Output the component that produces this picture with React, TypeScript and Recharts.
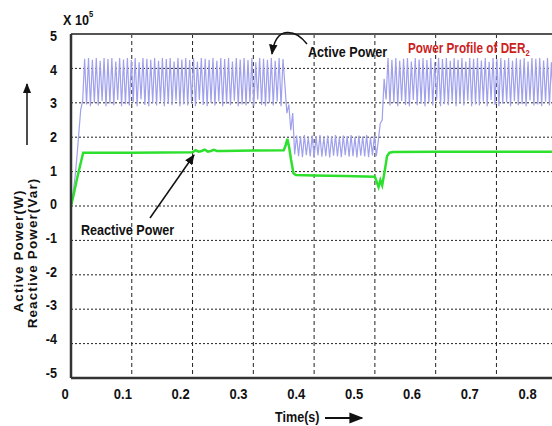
import React from 'react';
import {
  LineChart, Line, XAxis, YAxis, CartesianGrid, ReferenceLine,
} from 'recharts';

// sampling step of the active power trace (s)
const TIME_STEP = 0.0032;

// active power (x 10^5 W), one value per TIME_STEP
const activeRise = [0, 0.35, 0.8, 1.4, 2.1, 2.8, 3.05];
const activeHigh1 = [
  4.28, 2.95, 4.3, 2.9, 4.25, 3.0, 4.3, 2.92, 4.22, 3.05, 4.3, 2.9, 4.27, 2.98, 4.3, 2.93, 4.2, 3.08, 4.3, 2.9,
  4.26, 2.96, 4.3, 2.92, 4.24, 3.02, 4.3, 2.9, 4.18, 3.1, 4.3, 2.94, 4.28, 2.9, 4.25, 3.0, 4.3, 2.92, 4.22, 3.04,
  4.3, 2.9, 4.27, 2.97, 4.3, 2.93, 4.2, 3.06, 4.3, 2.9, 4.26, 2.95, 4.3, 2.92, 4.24, 3.02, 4.3, 2.9, 4.19, 3.08,
  4.3, 2.94, 4.28, 2.9, 4.25, 3.0, 4.3, 2.92, 4.22, 3.04, 4.3, 2.9, 4.27, 2.97, 4.3, 2.93, 4.2, 3.06, 4.3, 2.9,
  4.26, 2.95, 4.3, 2.92, 4.24, 3.02, 4.3, 2.9, 4.18, 3.1, 4.3, 2.94, 4.28, 2.9, 4.25, 3.0, 4.3, 2.92, 4.22, 3.04,
  4.3, 2.9, 4.27,
];
const activeDrop = [3.5, 2.7, 2.95, 2.2, 2.7];
const activeLow = [
  1.5, 2.05, 1.45, 2.02, 1.42, 2.06, 1.48, 2.0, 1.44, 2.05, 1.4, 2.03, 1.47, 2.06, 1.43, 2.0, 1.45, 2.05, 1.41, 2.02,
  1.46, 2.06, 1.44, 2.0, 1.42, 2.05, 1.48, 2.03, 1.43, 2.06, 1.45, 2.0, 1.41, 2.05, 1.46, 2.02, 1.44, 2.06, 1.42, 2.0,
  1.47, 2.05, 1.45,
];
const activeRecover = [1.9, 2.4, 2.5, 3.7, 3.1];
const activeHigh2 = [
  4.3, 2.92, 4.25, 3.0, 4.3, 2.9, 4.22, 3.05, 4.28, 2.94, 4.3, 2.9, 4.2, 3.08, 4.3, 2.93, 4.26, 2.97, 4.3, 2.9,
  4.24, 3.02, 4.3, 2.92, 4.18, 3.1, 4.3, 2.9, 4.27, 2.96, 4.3, 2.93, 4.22, 3.04, 4.3, 2.9, 4.25, 3.0, 4.3, 2.92,
  4.2, 3.06, 4.3, 2.9, 4.28, 2.95, 4.3, 2.92, 4.23, 3.03, 4.3, 2.9, 4.19, 3.08, 4.3, 2.94, 4.27, 2.9, 4.3, 2.97,
  4.24, 3.02, 4.3, 2.9, 4.22, 3.05, 4.3, 2.93, 4.26, 2.96, 4.3, 2.9, 4.2, 3.07, 4.3, 2.92, 4.28, 2.95, 4.3, 2.9,
  4.23, 3.03, 4.3, 2.92, 4.18, 3.1, 4.3, 2.9, 4.27, 2.97, 4.3, 2.93, 4.22, 3.04, 4.3, 2.9, 4.25, 3.0, 4.3, 2.92,
  4.2, 3.06, 4.3, 2.9, 4.28, 2.95, 4.3, 2.92, 4.23, 3.03, 4.3, 2.9, 4.19, 3.08, 4.3, 2.94, 4.27, 2.9, 4.3,
];

// reactive power (x 10^5 Var)
const reactiveTime = [
  0, 0.004, 0.01, 0.016, 0.02, 0.1, 0.2, 0.205, 0.21, 0.215, 0.22, 0.225, 0.23, 0.235, 0.24, 0.25, 0.3,
  0.35, 0.353, 0.356, 0.359, 0.362, 0.366, 0.37, 0.4, 0.45, 0.5, 0.503, 0.506, 0.509, 0.512, 0.516, 0.52,
  0.524, 0.53, 0.6, 0.7, 0.8, 0.9,
];
const reactiveValue = [
  0, 0.3, 0.8, 1.25, 1.55, 1.55, 1.56, 1.62, 1.58, 1.6, 1.64, 1.58, 1.6, 1.63, 1.6, 1.6, 1.61,
  1.62, 1.75, 1.95, 1.7, 1.35, 0.95, 0.9, 0.89, 0.87, 0.85, 0.7, 0.55, 0.75, 0.6, 1.0, 1.45,
  1.55, 1.57, 1.58, 1.58, 1.58, 1.58,
];

const xTicks = [0, 0.1, 0.2, 0.3, 0.4, 0.5, 0.6, 0.7, 0.8, 0.9];
const xLabelTicks = [0, 0.1, 0.2, 0.3, 0.4, 0.5, 0.6, 0.7, 0.8];
const yTicks = [-5, -4, -3, -2, -1, 0, 1, 2, 3, 4, 5];

const activeSeries = [
  ...activeRise, ...activeHigh1, ...activeDrop, ...activeLow, ...activeRecover, ...activeHigh2,
];
const activeData = activeSeries.map((v, i) => ({ t: +(i * TIME_STEP).toFixed(4), v }));
const reactiveData = reactiveTime.map((t, i) => ({ t, v: reactiveValue[i] }));

const FONT = "'Liberation Sans', Arial, sans-serif";
const NARROW = 'scale(0.84,1)';

const NoTick = () => <g />;

const XTick = ({ x, y, payload }: any) => (
  <g transform={`translate(${x - 6},${y})`}>
    <text transform={NARROW} textAnchor="middle" dy="0.71em" fontFamily={FONT} fontSize={15.5} fontWeight={700} fill="#111">
      {payload.value}
    </text>
  </g>
);

const YTick = ({ x, y, payload }: any) => (
  <g transform={`translate(${x},${y})`}>
    <text transform={NARROW} textAnchor="end" dy="0.355em" fontFamily={FONT} fontSize={15} fontWeight={700} fill="#111">
      {payload.value}
    </text>
  </g>
);

export default function App() {
  return (
    <div style={{ position: 'fixed', left: 0, top: 0, width: 552, height: 426, overflow: 'hidden', background: '#fff' }}>
      <LineChart width={640} height={426} margin={{ top: 34, right: 22, bottom: 0, left: 0 }}>
        <CartesianGrid xAxisId="t" yAxisId="v" vertical={false} stroke="#222" strokeDasharray="2 2" />
        <CartesianGrid xAxisId="t" yAxisId="v" horizontal={false} stroke="#222" strokeDasharray="4 3" />
        {/* main scales (no labels) */}
        <XAxis xAxisId="t" dataKey="t" type="number" orientation="top" height={0}
          domain={[0, 0.9]} ticks={xTicks} tick={NoTick} axisLine={false} tickLine={false} />
        <YAxis yAxisId="v" type="number" orientation="right" width={0}
          domain={[-5, 5]} ticks={yTicks} tick={NoTick} axisLine={false} tickLine={false} />
        {/* label axes: the printed tick labels sit on a slightly compressed scale */}
        <XAxis xAxisId="lab" dataKey="t" type="number" orientation="bottom" height={48} allowDataOverflow
          domain={[0, 0.9459]} ticks={xLabelTicks} interval={0} tickSize={0} tickMargin={10}
          tickLine={false} axisLine={{ stroke: '#333', strokeWidth: 2.5 }} tick={XTick} />
        <YAxis yAxisId="lab" type="number" orientation="left" width={71} allowDataOverflow
          domain={[-5.17, 5.05]} ticks={yTicks} interval={0} tickSize={0} tickMargin={14}
          tickLine={false} axisLine={{ stroke: '#333', strokeWidth: 2.5 }} tick={YTick} />
        <ReferenceLine xAxisId="t" yAxisId="v" y={5} stroke="#555" strokeWidth={2} />
        <Line xAxisId="t" yAxisId="v" data={activeData} dataKey="v" type="linear"
          stroke="#a0a0ec" strokeWidth={1.2} dot={false} isAnimationActive={false} />
        <Line xAxisId="t" yAxisId="v" data={reactiveData} dataKey="v" type="linear"
          stroke="#2ee02e" strokeWidth={2.5} dot={false} isAnimationActive={false} />
      </LineChart>
      <svg width={552} height={426} style={{ position: 'absolute', left: 0, top: 0, pointerEvents: 'none' }}>
        <defs>
          <marker id="head" viewBox="0 0 10 10" refX="9" refY="5" markerWidth="7" markerHeight="7" orient="auto">
            <path d="M0,1 L10,5 L0,9 z" fill="#111" />
          </marker>
        </defs>
        <g fontFamily={FONT} fontWeight={700} fill="#111">
          <text transform={`translate(63,25) ${NARROW}`} fontSize={15}>X 10</text>
          <text transform={`translate(89,17) ${NARROW}`} fontSize={9}>5</text>
          <text transform={`translate(308,57) ${NARROW}`} fontSize={15}>Active Power</text>
          <text transform={`translate(81,235) ${NARROW}`} fontSize={15}>Reactive Power</text>
          <text transform={`translate(275,422) ${NARROW}`} fontSize={15}>Time(s)</text>
          <text transform={`translate(408,53) ${NARROW}`} fontSize={14} fill="#cc1f1f">
            Power Profile of DER<tspan fontSize={9} dy={3}>2</tspan>
          </text>
        </g>
        <g fontFamily={FONT} fontWeight={700} fill="#111" fontSize={13.5} letterSpacing={1.1}>
          <text transform="translate(23,251) rotate(-90)" textAnchor="middle">Active Power(W)</text>
          <text transform="translate(36.5,253) rotate(-90)" textAnchor="middle">Reactive Power(Var)</text>
        </g>
        <path d="M307,44 C296,30 276,24 272,54" stroke="#111" strokeWidth={1.5} fill="none" markerEnd="url(#head)" />
        <line x1={150} y1={218} x2={194} y2={155} stroke="#111" strokeWidth={1.5} markerEnd="url(#head)" />
        <line x1={27} y1={145} x2={27} y2={84} stroke="#111" strokeWidth={1.5} markerEnd="url(#head)" />
        <line x1={325} y1={418} x2={362} y2={418} stroke="#111" strokeWidth={2} markerEnd="url(#head)" />
      </svg>
    </div>
  );
}
